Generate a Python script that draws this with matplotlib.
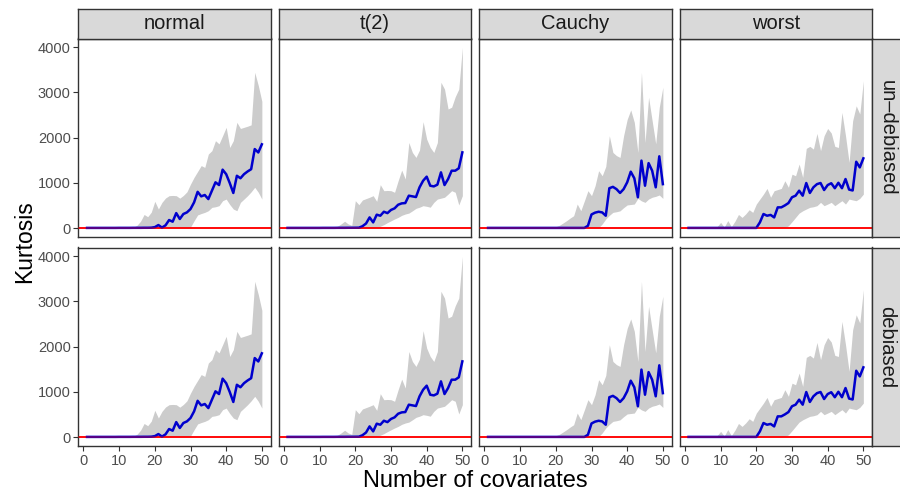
import numpy as np
import matplotlib
matplotlib.use("Agg")
import matplotlib.pyplot as plt

plt.rcParams['font.family'] = ['Liberation Sans', 'DejaVu Sans']

# ---------------- data ----------------
n_covariates = np.arange(1, 51)

dists = ["normal", "t(2)", "Cauchy", "worst"]
rows = ["un\u2013debiased", "debiased"]

normal_mean = [3, 3, 3, 3, 3, 3, 3, 3, 3, 4, 4, 4, 4, 5, 5, 5, 6, 6, 8, 20,
               66, 10, 60, 177, 140, 330, 200, 310, 346, 420,
               567, 800, 700, 730, 640, 825, 1010, 950, 1290, 1190,
               995, 775, 1155, 1100, 1190, 1250, 1300, 1745, 1670, 1850]
normal_upper = [8, 8, 8, 8, 8, 8, 8, 8, 8, 10, 10, 12, 15, 20, 60, 150, 300, 250, 350, 590,
                420, 567, 663, 715, 720, 715, 660, 720, 800, 970,
                1120, 1250, 1380, 1340, 1635, 1710, 1930, 1860, 2040, 2225,
                1780, 1930, 2335, 2200, 2225, 2250, 2280, 3440, 3150, 2800]
normal_lower = [1, 1, 1, 1, 1, 1, 1, 1, 1, 1, 1, 1, 1, 1, 1, 1, 1, 1, 1, 1,
                1, 1, 1, 1, 1, 1, 1, 1, 2, 20,
                160, 290, 320, 346, 383, 457, 470, 494, 604, 640,
                520, 420, 383, 567, 640, 715, 800, 900, 790, 640]

t2_mean = [3, 3, 3, 3, 3, 3, 3, 3, 3, 3, 4, 4, 4, 4, 5, 5, 5, 6, 6, 7,
           8, 40, 100, 235, 125, 295, 272, 360, 330, 400,
           435, 515, 545, 552, 715, 700, 685, 900, 1045, 1135,
           935, 920, 958, 1230, 950, 1083, 1267, 1267, 1320, 1672]
t2_upper = [8, 8, 8, 8, 8, 8, 8, 8, 8, 10, 10, 10, 12, 15, 40, 90, 150, 90, 60, 604,
            515, 620, 650, 680, 715, 590, 958, 825, 830, 825,
            790, 1045, 1280, 1083, 1890, 1670, 1560, 1725, 2350, 1965,
            1780, 1670, 1890, 3220, 3070, 2630, 2670, 2900, 3070, 3990]
t2_lower = [1, 1, 1, 1, 1, 1, 1, 1, 1, 1, 1, 1, 1, 1, 1, 1, 1, 1, 1, 1,
            1, 1, 1, 1, 1, 10, 40, 75, 120, 160,
            200, 235, 280, 310, 330, 380, 435, 460, 494, 480,
            460, 567, 640, 660, 680, 750, 825, 790, 510, 715]

cauchy_mean = [3, 3, 3, 3, 3, 3, 3, 3, 3, 3, 3, 3, 3, 3, 3, 3, 3, 3, 3, 3,
               3, 3, 3, 3, 3, 3, 3, 3, 50, 300,
               340, 360, 345, 272, 880, 910, 860, 775, 860, 1010,
               1245, 1100, 680, 1490, 935, 1435, 1267, 900, 1585, 970]
cauchy_upper = [8, 8, 8, 8, 8, 8, 8, 8, 8, 8, 8, 8, 8, 8, 8, 8, 8, 8, 8, 30,
                60, 110, 162, 220, 272, 530, 383, 600, 825, 715,
                935, 1267, 1155, 1360, 2040, 1670, 1600, 1560, 2040, 2400,
                2610, 2335, 1670, 3440, 1890, 2890, 2370, 1860, 2670, 3110]
cauchy_lower = [1, 1, 1, 1, 1, 1, 1, 1, 1, 1, 1, 1, 1, 1, 1, 1, 1, 1, 1, 1,
                1, 1, 1, 1, 1, 1, 1, 1, 1, 1,
                1, 10, 90, 200, 280, 346, 360, 380, 450, 510,
                520, 530, 655, 600, 567, 640, 680, 700, 730, 655]

worst_mean = [3, 3, 3, 3, 3, 3, 3, 3, 3, 3, 3, 3, 3, 3, 3, 3, 3, 3, 3, 3,
              125, 310, 272, 290, 235, 457, 457, 500, 552, 680,
              715, 825, 715, 995, 775, 900, 970, 995, 840, 950,
              990, 880, 1000, 880, 1083, 850, 830, 1465, 1340, 1540]
worst_upper = [8, 8, 8, 8, 8, 8, 8, 8, 30, 125, 20, 165, 30, 150, 300, 235, 310, 405, 346, 530,
               640, 750, 875, 680, 825, 850, 875, 1045, 900, 1190,
               1155, 1414, 1120, 1760, 1805, 1745, 2090, 1710, 2040, 2200,
               2100, 1805, 1780, 2555, 2040, 1450, 2370, 2700, 2520, 3255]
worst_lower = [1, 1, 1, 1, 1, 1, 1, 1, 1, 1, 1, 1, 1, 1, 1, 1, 1, 1, 1, 1,
               1, 1, 1, 1, 1, 1, 1, 10, 50, 140,
               235, 330, 380, 420, 457, 470, 494, 567, 494, 530,
               567, 494, 550, 604, 530, 640, 620, 604, 655, 750]

means = {"normal": normal_mean, "t(2)": t2_mean, "Cauchy": cauchy_mean, "worst": worst_mean}
uppers = {"normal": normal_upper, "t(2)": t2_upper, "Cauchy": cauchy_upper, "worst": worst_upper}
lowers = {"normal": normal_lower, "t(2)": t2_lower, "Cauchy": cauchy_lower, "worst": worst_lower}

x_ticks = [0, 10, 20, 30, 40, 50]
y_ticks = [0, 1000, 2000, 3000, 4000]

# ---------------- layout ----------------
W, H = 900, 497
fig = plt.figure(figsize=(W / 100, H / 100), dpi=100)

panel_left_px = [78.3, 278.8, 479.3, 679.8]
panel_w_px = 192.3
panel_top_px = [38.5, 247.5]
panel_h_px = 198.5
strip_px = 29.5

border_col = "#333333"
tick_col = "#4D4D4D"

for r, rowname in enumerate(rows):
    for c, d in enumerate(dists):
        l = panel_left_px[c] / W
        b = 1 - (panel_top_px[r] + panel_h_px) / H
        ax = fig.add_axes([l, b, panel_w_px / W, panel_h_px / H])
        ax.fill_between(n_covariates, lowers[d], uppers[d], color="#CCCCCC", lw=0, zorder=1)
        ax.axhline(0, color="#FF0000", lw=1.3, zorder=2)
        ax.plot(n_covariates, means[d], color="#0000CD", lw=1.8, zorder=3, solid_joinstyle="round")
        ax.axhline(0, color="#FF0000", lw=1.1, alpha=0.45, zorder=4)
        ax.set_xlim(-1.45, 52.45)
        ax.set_ylim(-198, 4188)
        ax.set_xticks(x_ticks)
        ax.set_yticks(y_ticks)
        for s in ax.spines.values():
            s.set_color(border_col)
            s.set_linewidth(1.0)
        ax.tick_params(axis="both", length=3.5, width=0.8, color=border_col,
                       labelcolor=tick_col, labelsize=10.5, pad=2)
        if c != 0:
            ax.tick_params(axis="y", length=0, labelleft=False)
        if r != len(rows) - 1:
            ax.tick_params(axis="x", length=0, labelbottom=False)

        # top strips
        if r == 0:
            sax = fig.add_axes([l, 1 - panel_top_px[0] / H, panel_w_px / W, strip_px / H])
            sax.set_facecolor("#D9D9D9")
            sax.set_xticks([]); sax.set_yticks([])
            for s in sax.spines.values():
                s.set_color(border_col); s.set_linewidth(1.0)
            sax.text(0.5, 0.5, d, ha="center", va="center", fontsize=14.5,
                     color="#1A1A1A", transform=sax.transAxes)
        # right strips
        if c == len(dists) - 1:
            sax = fig.add_axes([(panel_left_px[c] + panel_w_px) / W, b, strip_px / W, panel_h_px / H])
            sax.set_facecolor("#D9D9D9")
            sax.set_xticks([]); sax.set_yticks([])
            for s in sax.spines.values():
                s.set_color(border_col); s.set_linewidth(1.0)
            sax.text(0.5, 0.5, rowname, ha="center", va="center", fontsize=14.5,
                     color="#1A1A1A", rotation=-90, transform=sax.transAxes)

fig.text(25 / W, 1 - 242 / H, "Kurtosis", rotation=90, ha="center", va="center",
         fontsize=16.5, color="black")
fig.text(475 / W, 1 - 481 / H, "Number of covariates", ha="center", va="center",
         fontsize=17, color="black")

fig.savefig("out.png", dpi=100)
